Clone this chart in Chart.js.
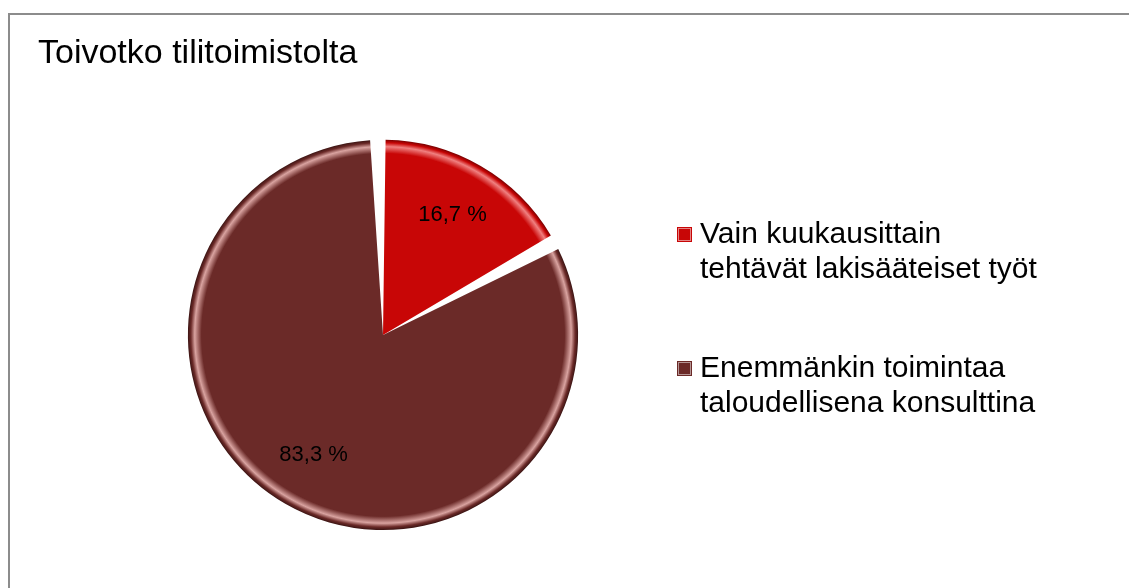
<!DOCTYPE html>
<html>
<head>
<meta charset="utf-8">
<script src="https://cdn.jsdelivr.net/npm/chart.js@4/dist/chart.umd.min.js"></script>
<style>
  html, body { margin: 0; padding: 0; background: #fff; overflow: hidden; }
</style>
</head>
<body>
<canvas id="pieChart" width="1129" height="588"></canvas>
<script>
// Toivotko tilitoimistolta — pie chart

const categories = [
  ['Vain kuukausittain', 'tehtävät lakisääteiset työt'],
  ['Enemmänkin toimintaa', 'taloudellisena konsulttina']
];
const shares = [16.7, 83.3];
const valueLabels = ['16,7 %', '83,3 %'];

const sliceColors = ['#c80606', '#6b2a28'];
const rimLight    = ['#f08080', '#d9a3a0'];
const rimDark     = ['#7a0000', '#3a1312'];
const font = '"Liberation Sans", Arial, sans-serif';

// Rim bevel, radial gradient across the pie
function bevel(ctx) {
  const i = ctx.dataIndex;
  const base = sliceColors[i];
  const a = ctx.chart.chartArea;
  if (!a || i === undefined) return base;
  const cx = (a.left + a.right) / 2;
  const cy = (a.top + a.bottom) / 2;
  const r = Math.min(a.width, a.height) / 2;
  const g = ctx.chart.ctx.createRadialGradient(cx, cy, 0, cx, cy, r);
  g.addColorStop(0, base);
  g.addColorStop(0.93, base);
  g.addColorStop(0.965, rimLight[i]);
  g.addColorStop(0.985, base);
  g.addColorStop(1, rimDark[i]);
  return g;
}

// Outer frame (only top and left edges are inside the picture)
const frame = {
  id: 'frame',
  beforeDraw(chart) {
    const c = chart.ctx;
    c.save();
    c.strokeStyle = '#8c8c8c';
    c.lineWidth = 2;
    c.beginPath();
    c.moveTo(9, chart.height);
    c.lineTo(9, 14);
    c.lineTo(chart.width, 14);
    c.stroke();
    c.restore();
  }
};

// Value labels inside the slices
const sliceLabels = {
  id: 'sliceLabels',
  afterDatasetsDraw(chart) {
    const c = chart.ctx;
    const meta = chart.getDatasetMeta(0);
    c.save();
    c.font = '22px ' + font;
    c.fillStyle = '#000';
    c.textAlign = 'center';
    c.textBaseline = 'middle';
    meta.data.forEach((arc, i) => {
      const mid = (arc.startAngle + arc.endAngle) / 2;
      const r = arc.outerRadius * 0.72;
      c.fillText(valueLabels[i], arc.x + Math.cos(mid) * r, arc.y + Math.sin(mid) * r);
    });
    c.restore();
  }
};

// Legend on the right, two-line labels
const sideLegend = {
  id: 'sideLegend',
  afterDraw(chart) {
    const c = chart.ctx;
    const x = 677, firstBase = [243, 377], lineH = 35;
    c.save();
    c.font = '30px ' + font;
    c.textBaseline = 'alphabetic';
    chart.data.labels.forEach((lines, i) => {
      const top = firstBase[i] - 16;
      c.fillStyle = sliceColors[i];
      c.fillRect(x, top, 15, 15);
      c.strokeStyle = 'rgba(255,255,255,0.5)';
      c.lineWidth = 1;
      c.strokeRect(x + 1.5, top + 1.5, 12, 12);
      c.fillStyle = '#000';
      lines.forEach((t, j) => c.fillText(t, x + 23, firstBase[i] + j * lineH));
    });
    c.restore();
  }
};

new Chart(document.getElementById('pieChart'), {
  type: 'pie',
  data: {
    labels: categories,
    datasets: [{
      data: shares,
      backgroundColor: bevel,
      borderWidth: 0,
      spacing: 5
    }]
  },
  options: {
    responsive: false,
    animation: false,
    layout: { padding: { left: 38, right: 401, top: 0, bottom: 58 } },
    plugins: {
      legend: { display: false },
      tooltip: { enabled: false },
      title: {
        display: true,
        text: 'Toivotko tilitoimistolta',
        align: 'start',
        color: '#000',
        font: { family: font, size: 34, weight: 'normal', lineHeight: 1.2 },
        padding: { top: 33, bottom: 66 }
      }
    }
  },
  plugins: [frame, sliceLabels, sideLegend]
});
</script>
</body>
</html>
